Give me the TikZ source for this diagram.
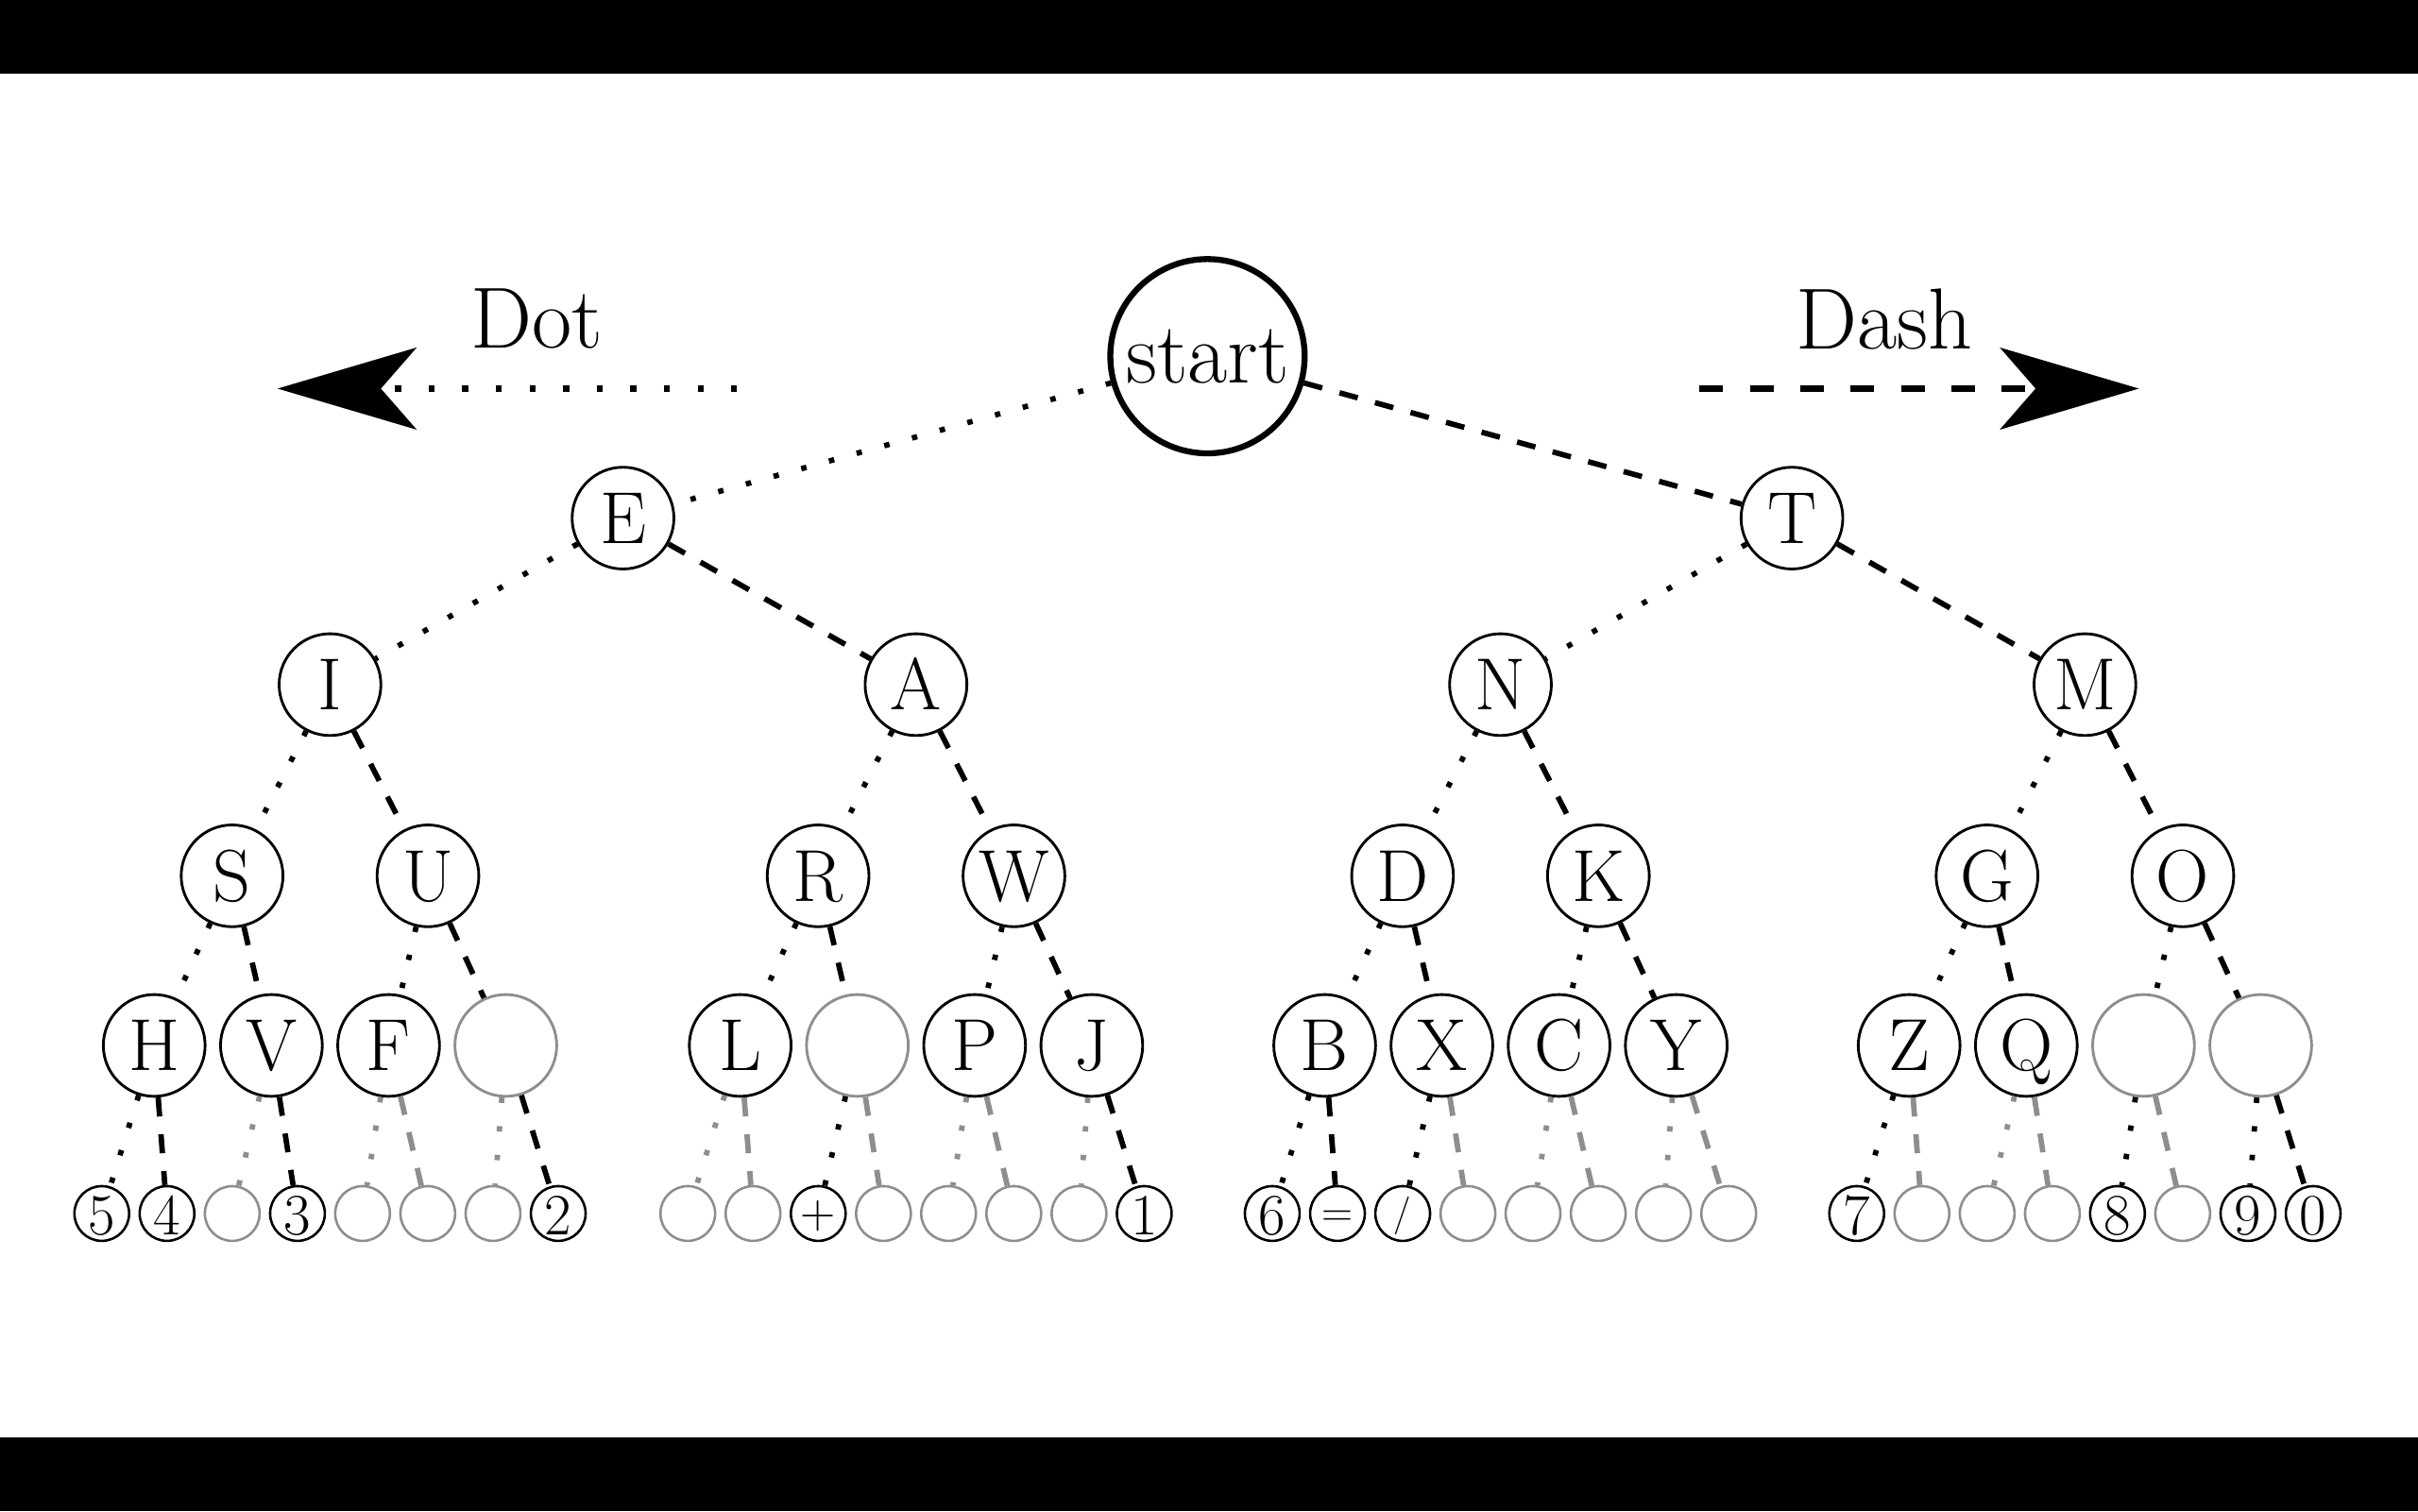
\documentclass[tikz,border=0pt]{standalone}
\usepackage{fontspec}
\setmainfont{lmroman17-regular.otf}
\usepackage{xcolor}
\usepackage{tikz}
\usetikzlibrary{arrows.meta, positioning}
\definecolor{blankgray}{HTML}{8E8E8E}

\tikzset{
  letternode/.style={circle, draw, line width=0.5pt, minimum size=0.66cm, inner sep=0pt, text height=9.3pt, text depth=0pt, font=\fontsize{13.6}{13.6}\selectfont},
  blanknode/.style={letternode, draw=blankgray},
  signnode/.style={circle, draw, line width=0.45pt, minimum size=0.355cm, inner sep=0pt, text height=7.9pt, text depth=0pt, font=\fontsize{10.8}{10.8}\selectfont},
  blanksign/.style={signnode, draw=blankgray},
  dotedge/.style={line width=1pt, dash pattern=on 1pt off 4.3pt},
  dashedge/.style={line width=1pt, dash pattern=on 3.5pt off 3.3pt},
  lostdot/.style={dotedge, blankgray},
  lostdash/.style={dashedge, blankgray},
  bigtip/.style={-{Stealth[length=0.9cm, width=0.53cm, inset=0.23cm]}},
}

\begin{document}
\begin{tikzpicture}
  \useasboundingbox (0,0) rectangle (15.68,-9.80);
  \fill[black] (0,0) rectangle (15.68,-0.48);
  \fill[black] (0,-9.32) rectangle (15.68,-9.80);

  \node[font=\fontsize{16}{16}\selectfont] (dotlabel) at (3.48,-2.07) {Dot};
  \node[font=\fontsize{16}{16}\selectfont] (dashlabel) at (12.22,-2.07) {Dash};
  \coordinate (dotfrom) at (4.78,-2.52);
  \coordinate (dotto) at (1.80,-2.52);
  \coordinate (dashfrom) at (11.02,-2.52);
  \coordinate (dashto) at (13.87,-2.52);
  \draw[line width=1.1pt, dash pattern=on 1.1pt off 5.1pt, bigtip] (dotfrom) -- (dotto);
  \draw[line width=1.1pt, dash pattern=on 4.35pt off 4.95pt, bigtip] (dashfrom) -- (dashto);

  \node[circle, draw, line width=1.1pt, minimum size=1.26cm, inner sep=0pt, font=\fontsize{16}{16}\selectfont] (start) at (7.83,-2.31) {start};

  \node[letternode] (E) at (4.04,-3.36) {E};
  \node[letternode] (T) at (11.62,-3.36) {T};

  \node[letternode] (I) at (2.14,-4.44) {I};
  \node[letternode] (A) at (5.94,-4.44) {A};
  \node[letternode] (N) at (9.73,-4.44) {N};
  \node[letternode] (M) at (13.52,-4.44) {M};

  \node[letternode] (S) at (1.505,-5.68) {S};
  \node[letternode] (U) at (2.775,-5.68) {U};
  \node[letternode] (R) at (5.305,-5.68) {R};
  \node[letternode] (W) at (6.575,-5.68) {W};
  \node[letternode] (D) at (9.095,-5.68) {D};
  \node[letternode] (K) at (10.365,-5.68) {K};
  \node[letternode] (G) at (12.885,-5.68) {G};
  \node[letternode] (O) at (14.155,-5.68) {O};

  \node[letternode] (H) at (1.00,-6.78) {H};
  \node[letternode] (V) at (1.76,-6.78) {V};
  \node[letternode] (F) at (2.52,-6.78) {F};
  \node[blanknode] (U2) at (3.28,-6.78) {};
  \node[letternode] (L) at (4.80,-6.78) {L};
  \node[blanknode] (R2) at (5.56,-6.78) {};
  \node[letternode] (P) at (6.32,-6.78) {P};
  \node[letternode] (J) at (7.08,-6.78) {J};
  \node[letternode] (B) at (8.59,-6.78) {B};
  \node[letternode] (X) at (9.35,-6.78) {X};
  \node[letternode] (C) at (10.11,-6.78) {C};
  \node[letternode] (Y) at (10.87,-6.78) {Y};
  \node[letternode] (Z) at (12.38,-6.78) {Z};
  \node[letternode] (Q) at (13.14,-6.78) {Q};
  \node[blanknode] (O1) at (13.90,-6.78) {};
  \node[blanknode] (O2) at (14.66,-6.78) {};

  \node[signnode] (H1) at (0.660,-7.87) {5};
  \node[signnode] (H2) at (1.083,-7.87) {4};
  \node[blanksign] (V1) at (1.506,-7.87) {};
  \node[signnode] (V2) at (1.929,-7.87) {3};
  \node[blanksign] (F1) at (2.351,-7.87) {};
  \node[blanksign] (F2) at (2.774,-7.87) {};
  \node[blanksign] (U21) at (3.197,-7.87) {};
  \node[signnode] (U22) at (3.620,-7.87) {2};

  \node[blanksign] (L1) at (4.460,-7.87) {};
  \node[blanksign] (L2) at (4.883,-7.87) {};
  \node[signnode, font=\fontsize{9}{9}\selectfont, text height=5.3pt] (R21) at (5.306,-7.87) {+};
  \node[blanksign] (R22) at (5.729,-7.87) {};
  \node[blanksign] (P1) at (6.151,-7.87) {};
  \node[blanksign] (P2) at (6.574,-7.87) {};
  \node[blanksign] (J1) at (6.997,-7.87) {};
  \node[signnode] (J2) at (7.420,-7.87) {1};

  \node[signnode] (B1) at (8.250,-7.87) {6};
  \node[signnode, font=\fontsize{8}{8}\selectfont, text height=4.8pt] (B2) at (8.673,-7.87) {=};
  \node[signnode, font=\fontsize{7}{7}\selectfont, text height=4.4pt] (X1) at (9.096,-7.87) {/};
  \node[blanksign] (X2) at (9.519,-7.87) {};
  \node[blanksign] (C1) at (9.941,-7.87) {};
  \node[blanksign] (C2) at (10.364,-7.87) {};
  \node[blanksign] (Y1) at (10.787,-7.87) {};
  \node[blanksign] (Y2) at (11.210,-7.87) {};

  \node[signnode] (Z1) at (12.040,-7.87) {7};
  \node[blanksign] (Z2) at (12.463,-7.87) {};
  \node[blanksign] (Q1) at (12.886,-7.87) {};
  \node[blanksign] (Q2) at (13.309,-7.87) {};
  \node[signnode] (O11) at (13.731,-7.87) {8};
  \node[blanksign] (O12) at (14.154,-7.87) {};
  \node[signnode] (O21) at (14.577,-7.87) {9};
  \node[signnode] (O22) at (15.000,-7.87) {0};

  \draw[dotedge] (start) -- (E);
  \draw[dashedge] (start) -- (T);
  \draw[dotedge] (E) -- (I);
  \draw[dashedge] (E) -- (A);
  \draw[dotedge] (T) -- (N);
  \draw[dashedge] (T) -- (M);

  \draw[dotedge] (I) -- (S);
  \draw[dashedge] (I) -- (U);
  \draw[dotedge] (A) -- (R);
  \draw[dashedge] (A) -- (W);
  \draw[dotedge] (N) -- (D);
  \draw[dashedge] (N) -- (K);
  \draw[dotedge] (M) -- (G);
  \draw[dashedge] (M) -- (O);

  \draw[dotedge] (S) -- (H);
  \draw[dashedge] (S) -- (V);
  \draw[dotedge] (U) -- (F);
  \draw[dashedge] (U) -- (U2);
  \draw[dotedge] (R) -- (L);
  \draw[dashedge] (R) -- (R2);
  \draw[dotedge] (W) -- (P);
  \draw[dashedge] (W) -- (J);
  \draw[dotedge] (D) -- (B);
  \draw[dashedge] (D) -- (X);
  \draw[dotedge] (K) -- (C);
  \draw[dashedge] (K) -- (Y);
  \draw[dotedge] (G) -- (Z);
  \draw[dashedge] (G) -- (Q);
  \draw[dotedge] (O) -- (O1);
  \draw[dashedge] (O) -- (O2);

  \draw[dotedge] (H) -- (H1);
  \draw[dashedge] (H) -- (H2);
  \draw[lostdot] (V) -- (V1);
  \draw[dashedge] (V) -- (V2);
  \draw[lostdot] (F) -- (F1);
  \draw[lostdash] (F) -- (F2);
  \draw[lostdot] (U2) -- (U21);
  \draw[dashedge] (U2) -- (U22);
  \draw[lostdot] (L) -- (L1);
  \draw[lostdash] (L) -- (L2);
  \draw[dotedge] (R2) -- (R21);
  \draw[lostdash] (R2) -- (R22);
  \draw[lostdot] (P) -- (P1);
  \draw[lostdash] (P) -- (P2);
  \draw[lostdot] (J) -- (J1);
  \draw[dashedge] (J) -- (J2);
  \draw[dotedge] (B) -- (B1);
  \draw[dashedge] (B) -- (B2);
  \draw[dotedge] (X) -- (X1);
  \draw[lostdash] (X) -- (X2);
  \draw[lostdot] (C) -- (C1);
  \draw[lostdash] (C) -- (C2);
  \draw[lostdot] (Y) -- (Y1);
  \draw[lostdash] (Y) -- (Y2);
  \draw[dotedge] (Z) -- (Z1);
  \draw[lostdash] (Z) -- (Z2);
  \draw[lostdot] (Q) -- (Q1);
  \draw[lostdash] (Q) -- (Q2);
  \draw[dotedge] (O1) -- (O11);
  \draw[lostdash] (O1) -- (O12);
  \draw[dotedge] (O2) -- (O21);
  \draw[dashedge] (O2) -- (O22);
\end{tikzpicture}
\end{document}
